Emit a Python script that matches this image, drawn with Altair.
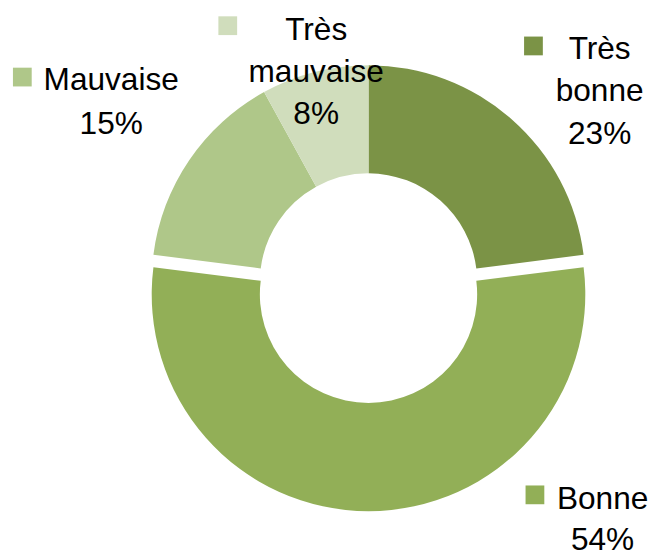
import math
import altair as alt
import pandas as pd

# ---- data ----
categories = ["Très bonne", "Bonne", "Mauvaise", "Très mauvaise"]
values = [23, 54, 15, 8]
label_names = ["Très\nbonne", "Bonne", "Mauvaise", "Très\nmauvaise"]
colors = ["#7b9346", "#92af57", "#afc789", "#d0ddbc"]

df = pd.DataFrame({
    "category": categories,
    "value": values,
    "name": label_names,
    "order": list(range(len(categories))),
})

W, H = 650, 549
CX, CY = 365, 274          # centre of the donut (plot coords)
EXPLODE = 12.5             # Bonne slice pulled out downward
R_OUT, R_IN = 219.5, 110

FONT = "Liberation Sans"

color_scale = alt.Scale(domain=categories, range=colors)
theta_scale = alt.Scale(domain=[0, 100], range=[0, 2 * math.pi])

base = (
    alt.Chart(df)
    .transform_window(cum="sum(value)", sort=[alt.SortField("order")])
    .transform_calculate(start="datum.cum - datum.value")
)


def slice_layer(expr, cy):
    return (
        base.transform_filter(expr)
        .mark_arc(outerRadius=R_OUT, innerRadius=R_IN)
        .encode(
            theta=alt.Theta("start:Q", scale=theta_scale),
            theta2="cum:Q",
            color=alt.Color("category:N", scale=color_scale, legend=None),
            x=alt.value(CX),
            y=alt.value(cy),
        )
    )


layers = [
    slice_layer("datum.category != 'Bonne'", CY),
    slice_layer("datum.category == 'Bonne'", CY + EXPLODE),
]

# label layout: (text centre x, first baseline y, line height, marker x, marker y)
label_pos = {
    "Très bonne": (599, 48, 43, 532, 35),
    "Bonne": (602, 504, 41, 533.5, 489.5),
    "Mauvaise": (104.5, 80, 44, 14.5, 66.5),
    "Très mauvaise": (312, 29, 42.5, 222.5, 14.5),
}

for cat, (tx, ty, lh, mx, my) in label_pos.items():
    sub = alt.Chart(df).transform_filter(alt.datum.category == cat)
    layers.append(
        sub.mark_square(size=361, opacity=1, strokeWidth=0).encode(
            x=alt.value(mx),
            y=alt.value(my),
            color=alt.Color("category:N", scale=color_scale, legend=None),
        )
    )
    layers.append(
        sub.transform_calculate(label="datum.name + '\\n' + datum.value + '%'")
        .mark_text(
            font=FONT,
            fontSize=32,
            lineBreak="\n",
            lineHeight=lh,
            align="center",
            baseline="alphabetic",
            color="#000000",
        )
        .encode(x=alt.value(tx), y=alt.value(ty), text="label:N")
    )

chart = (
    alt.layer(*layers)
    .properties(width=W, height=H, padding=0, autosize=alt.AutoSizeParams(type="none"))
    .configure_view(stroke=None)
)

chart.save("out.html", embed_options={"renderer": "svg", "actions": False})
